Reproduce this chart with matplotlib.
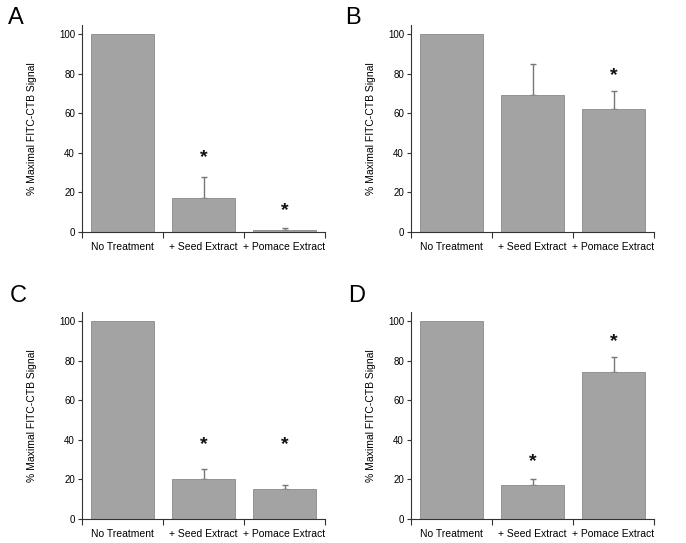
import numpy as np
import matplotlib.pyplot as plt
from matplotlib.transforms import offset_copy

plt.rcParams['font.family'] = ['Liberation Sans', 'DejaVu Sans']

categories = ['No Treatment', '+ Seed Extract', '+ Pomace Extract']
panel_names = ['A', 'B', 'C', 'D']

# mean signal per panel
means = {
    'A': [100, 17, 1],
    'B': [100, 69, 62],
    'C': [100, 20, 15],
    'D': [100, 17, 74],
}
# upper error only
errors = {
    'A': [0, 11, 1],
    'B': [0, 16, 9],
    'C': [0, 5, 2],
    'D': [0, 3, 8],
}
# asterisk height (data units); None = no asterisk
stars = {
    'A': [None, 39, 12],
    'B': [None, None, 80],
    'C': [None, 39, 39],
    'D': [None, 30, 91],
}

W, H = 686, 543
fig = plt.figure(figsize=(W / 100, H / 100), dpi=100)

# axes box in pixels: left, top, right, bottom
boxes = {
    'A': (82, 25, 325, 232),
    'B': (411, 25, 654, 232),
    'C': (82, 312, 325, 519),
    'D': (411, 312, 654, 519),
}
letter_pos = {'A': (8, 18), 'B': (345, 18), 'C': (10, 296), 'D': (348, 296)}
ylabel_x = {'A': 32, 'B': 371, 'C': 32, 'D': 371}

bar_color = '#a3a3a3'
edge_color = '#8a8a8a'
axis_color = '#333333'

for name in panel_names:
    l, t, r, b = boxes[name]
    ax = fig.add_axes([l / W, 1 - b / H, (r - l) / W, (b - t) / H])
    x = np.arange(len(categories)) + 0.5
    ax.bar(x, means[name], width=0.79, color=bar_color, edgecolor=edge_color, linewidth=0.6, zorder=2)
    for xi, m, e in zip(x, means[name], errors[name]):
        if e > 0:
            ax.errorbar(xi, m, yerr=[[0], [e]], fmt='none', ecolor='#777777',
                        elinewidth=1.0, capsize=2, capthick=1.0, zorder=1)
    # glyph sits high in its box, nudge it down a little
    star_tr = offset_copy(ax.transData, fig=fig, x=0, y=-2.5, units='dots')
    for xi, s in zip(x, stars[name]):
        if s is not None:
            ax.text(xi, s, '*', ha='center', va='center', fontsize=14, fontweight='bold',
                    color='#111111', transform=star_tr)

    ax.set_xlim(0, 3)
    ax.set_ylim(0, 104.5)
    ax.set_yticks([0, 20, 40, 60, 80, 100])
    ax.set_xticks([0, 1, 2, 3])
    ax.set_xticklabels([])
    ax.set_xticks(x, minor=True)
    ax.set_xticklabels(categories, minor=True)
    ax.tick_params(axis='x', which='minor', length=0, pad=7, labelsize=7.5)
    ax.tick_params(axis='x', which='major', length=4, direction='out', color=axis_color, width=0.8)
    ax.tick_params(axis='y', length=3, direction='out', color=axis_color, width=0.8, labelsize=7, pad=2)
    for sp in ['top', 'right']:
        ax.spines[sp].set_visible(False)
    for sp in ['left', 'bottom']:
        ax.spines[sp].set_color(axis_color)
        ax.spines[sp].set_linewidth(0.8)

    fig.text(ylabel_x[name] / W, 1 - ((t + b) / 2) / H, '% Maximal FITC-CTB Signal',
             rotation=90, ha='center', va='center', fontsize=7.5)
    lx, ly = letter_pos[name]
    fig.text(lx / W, 1 - ly / H, name, ha='left', va='center', fontsize=17)

fig.savefig('out.png', dpi=100, facecolor='white')
